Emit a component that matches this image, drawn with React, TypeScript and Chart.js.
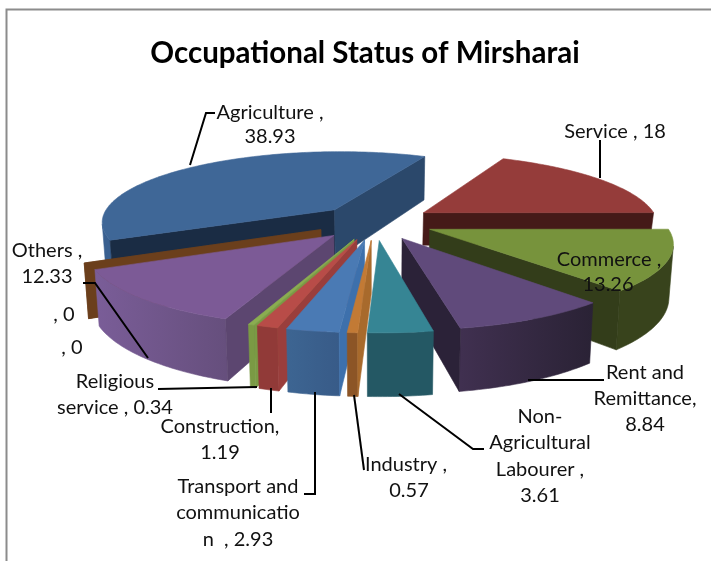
import React, { useEffect, useRef } from "react";
import { Chart, registerables } from "chart.js";

Chart.register(...registerables);

const categories = ["Agriculture", "Service", "Commerce", "Rent and Remittance", "Non-Agricultural Labourer", "Industry", "Transport and communication", "Construction", "Religious service", "Others", "", ""];
const values = [38.93, 18, 13.26, 8.84, 3.61, 0.57, 2.93, 1.19, 0.34, 12.33, 0, 0];

const topColors = ["#3f6797", "#953c3a", "#77933c", "#604a7b", "#368594", "#c27a35", "#4a7ab4", "#b84c48", "#8aad50", "#7c5a96", "#6b3f1c", "#6b3f1c"];
const arcLeft = ["#3a6090", "#5a2422", "#38431c", "#403050", "#245864", "#8c5526", "#3d6592", "#913a38", "#7a9a44", "#7a5d98", "#6b3f1c", "#6b3f1c"];
const arcRight = ["#3a6090", "#5a2422", "#38431c", "#2a2235", "#245864", "#8c5526", "#385b88", "#913a38", "#7a9a44", "#664f7d", "#6b3f1c", "#6b3f1c"];
const startWall = ["#1a2c44", "#451a18", "#333d1a", "#2b2238", "#245864", "#a86a2c", "#3d70ac", "#9a3e3c", "#7a9a44", "#5c4670", "#6b3f1c", "#6b3f1c"];
const endWall = ["#2b486b", "#451a18", "#333d1a", "#2b2238", "#245864", "#8c5526", "#3d6592", "#913a38", "#7a9a44", "#5c4670", "#6b3f1c", "#6b3f1c"];
const depthScale = [1, 0.65, 1, 1, 1, 1, 1, 1, 1, 1, 1, 1];

const titleText = "Occupational Status of Mirsharai";
const FONT = "Lato";

const labelLines: [string, number, number][] = [
  ["Agriculture ,", 270, 113], ["38.93", 270, 137],
  ["Service , 18", 615, 132],
  ["Commerce ,", 609, 260], ["13.26", 608, 285],
  ["Rent and", 645, 373], ["Remittance,", 645, 399], ["8.84", 645, 425],
  ["Non-", 540, 417], ["Agricultural", 540, 443], ["Labourer ,", 540, 470], ["3.61", 540, 496],
  ["Industry ,", 406, 465], ["0.57", 409, 491],
  ["Transport and", 238, 487], ["communicatio", 238, 513], ["n  , 2.93", 238, 540],
  ["Construction,", 220, 427], ["1.19", 220, 453],
  ["Religious", 115, 382], ["service , 0.34", 115, 408],
  ["Others ,", 47, 251], ["12.33", 47, 277],
  [", 0", 64, 315], [", 0", 72, 348],
];

const leaders: [number, number][][] = [
  [[215, 113], [206, 113], [190, 165]],
  [[600, 140], [600, 178]],
  [[604, 380], [528, 380]],
  [[484, 449], [473, 449], [399, 394]],
  [[364, 470], [354, 395]],
  [[304, 494], [315, 494], [315, 392]],
  [[271, 413], [271, 388]],
  [[158, 389], [257, 387]],
  [[83, 283], [95, 283], [148, 358]],
];

// projection of the pie plane
const CX = 375, CY = 222, R = 235, K = 0.16, F = 71, EXPLODE = 0.25, H = 51, SHRINK = 0.985;

type P = [number, number];
function project(x: number, y: number, bottom: boolean, dScale = 1): P {
  const s = 1 / (1 - K * y);
  let px = CX + R * x * s;
  let py = CY + F * y * s;
  if (bottom) {
    px = CX + (px - CX) * SHRINK;
    py += H * s * dScale;
  }
  return [px, py];
}

function poly(ctx: CanvasRenderingContext2D, pts: P[], fill: string | CanvasGradient) {
  ctx.beginPath();
  pts.forEach((p, i) => (i ? ctx.lineTo(p[0], p[1]) : ctx.moveTo(p[0], p[1])));
  ctx.closePath();
  ctx.fillStyle = fill;
  ctx.strokeStyle = fill;
  ctx.lineWidth = 0.6;
  ctx.fill();
  ctx.stroke();
}

const area = (p: P[]) => {
  let a = 0;
  for (let i = 0; i < p.length; i++) {
    const q = p[(i + 1) % p.length];
    a += p[i][0] * q[1] - q[0] * p[i][1];
  }
  return a / 2;
};

const pie3d = {
  id: "pie3d",
  beforeDraw(chart: any) {
    const { ctx } = chart;
    ctx.save();
    ctx.fillStyle = "#fff";
    ctx.fillRect(0, 0, 711, 561);
    ctx.strokeStyle = "#8c8c8c";
    ctx.lineWidth = 2;
    ctx.beginPath();
    ctx.moveTo(6.5, 561);
    ctx.lineTo(6.5, 9.5);
    ctx.lineTo(711, 9.5);
    ctx.stroke();
    ctx.restore();
  },
  beforeDatasetsDraw(chart: any) {
    const { ctx } = chart;
    const arcs = chart.getDatasetMeta(0).data.map((el: any, i: number) => {
      const { startAngle, endAngle } = el.getProps(["startAngle", "endAngle"], true);
      return { i, a0: startAngle, a1: endAngle, mid: (startAngle + endAngle) / 2 };
    });
    arcs.sort((a: any, b: any) => Math.sin(a.mid) - Math.sin(b.mid));
    ctx.save();
    for (const s of arcs) {
      const ox = EXPLODE * Math.cos(s.mid), oy = EXPLODE * Math.sin(s.mid);
      const d = depthScale[s.i];
      const at = (a: number): [number, number] => [ox + Math.cos(a), oy + Math.sin(a)];
      const T = (q: [number, number]) => project(q[0], q[1], false);
      const B = (q: [number, number]) => project(q[0], q[1], true, d);
      const tip: [number, number] = [ox, oy];
      if (s.a1 - s.a0 < 1e-6) {
        poly(ctx, [T(tip), T(at(s.a0)), B(at(s.a0)), B(tip)], topColors[s.i]);
        continue;
      }
      const n = Math.max(2, Math.ceil(((s.a1 - s.a0) * 180) / Math.PI));
      const angles: number[] = [];
      for (let k = 0; k <= n; k++) angles.push(s.a0 + ((s.a1 - s.a0) * k) / n);
      // arc side: one polygon per run of front-facing steps
      const xs = angles.map((a) => T(at(a))[0]);
      const g = ctx.createLinearGradient(Math.min(...xs), 0, Math.max(...xs), 0);
      g.addColorStop(0, arcLeft[s.i]);
      g.addColorStop(1, arcRight[s.i]);
      let run: number[] = [];
      const flush = () => {
        if (run.length > 1) {
          poly(ctx, [...run.map((a) => T(at(a))), ...run.slice().reverse().map((a) => B(at(a)))], g);
        }
        run = [];
      };
      for (let k = 0; k < n; k++) {
        const q = [T(at(angles[k])), T(at(angles[k + 1])), B(at(angles[k + 1])), B(at(angles[k]))] as P[];
        if (area(q) < 0) {
          if (!run.length) run.push(angles[k]);
          run.push(angles[k + 1]);
        } else flush();
      }
      flush();
      // radial walls
      const w0 = [T(tip), T(at(s.a0)), B(at(s.a0)), B(tip)] as P[];
      if (area(w0) < 0) poly(ctx, w0, startWall[s.i]);
      const w1 = [T(at(s.a1)), T(tip), B(tip), B(at(s.a1))] as P[];
      if (area(w1) < 0) poly(ctx, w1, endWall[s.i]);
      // top face
      poly(ctx, [T(tip), ...angles.map((a) => T(at(a)))], topColors[s.i]);
    }
    ctx.restore();
    return false;
  },
  afterDraw(chart: any) {
    const { ctx } = chart;
    ctx.save();
    ctx.strokeStyle = "#000";
    ctx.lineWidth = 2;
    ctx.lineJoin = "miter";
    for (const l of leaders) {
      ctx.beginPath();
      l.forEach((p, i) => (i ? ctx.lineTo(p[0], p[1]) : ctx.moveTo(p[0], p[1])));
      ctx.stroke();
    }
    ctx.fillStyle = "#111";
    ctx.font = `20px ${FONT}`;
    ctx.textAlign = "center";
    ctx.textBaseline = "middle";
    for (const [t, x, y] of labelLines) ctx.fillText(t, x, y);
    ctx.restore();
  },
};

export default function App() {
  const ref = useRef<HTMLCanvasElement>(null);
  useEffect(() => {
    const chart = new Chart(ref.current!, {
      type: "pie",
      data: { labels: categories, datasets: [{ data: values, backgroundColor: topColors, borderWidth: 0 }] },
      options: {
        responsive: false,
        animation: false,
        rotation: 245,
        layout: { padding: { left: 19 } },
        plugins: {
          legend: { display: false },
          tooltip: { enabled: false },
          title: {
            display: true,
            text: titleText,
            color: "#000",
            font: { family: FONT, size: 29.5, weight: "bold" },
            padding: { top: 36, bottom: 10 },
          },
        },
      },
      plugins: [pie3d],
    } as any);
    return () => chart.destroy();
  }, []);
  return (
    <div style={{ position: "fixed", left: 0, top: 0 }}>
      <canvas ref={ref} width={711} height={561} style={{ display: "block" }} />
    </div>
  );
}
